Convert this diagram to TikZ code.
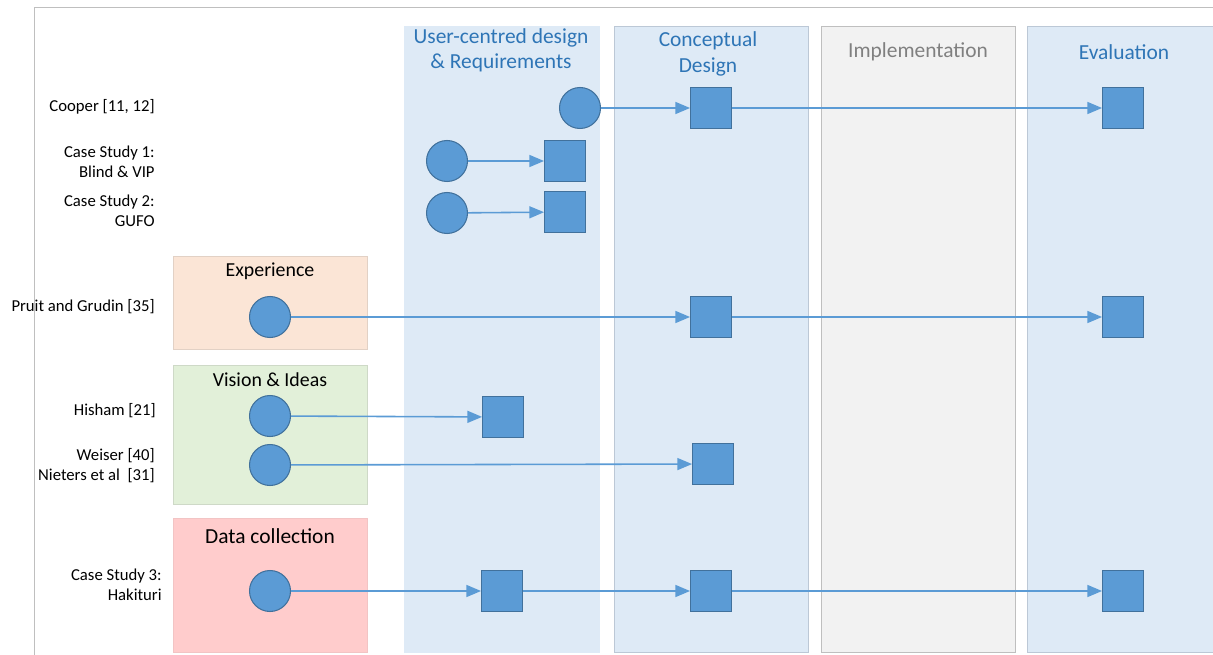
\documentclass[tikz,border=0pt]{standalone}
\usepackage{fontspec}
\setmainfont{Carlito}
\usetikzlibrary{positioning,shapes,arrows}
\definecolor{dotblue}{HTML}{5B9BD5}
\definecolor{dotedge}{HTML}{41719C}
\definecolor{lanefill}{HTML}{DEEAF6}
\definecolor{laneedge}{HTML}{BCC8D6}
\definecolor{headblue}{HTML}{2E75B6}
\definecolor{greyfill}{HTML}{F2F2F2}
\definecolor{greyedge}{HTML}{BFBFBF}
\definecolor{expfill}{HTML}{FBE5D6}
\definecolor{visfill}{HTML}{E2F0D9}
\definecolor{datafill}{HTML}{FFCCCC}
\tikzstyle{phase} = [text=headblue, align=center, font=\fontsize{12.2}{14.4}\selectfont]
\tikzstyle{source} = [align=right, anchor=east, inner sep=0pt, font=\fontsize{9.5}{11.4}\selectfont]
\tikzstyle{group} = [font=\fontsize{11.3}{13}\selectfont]
\tikzstyle{dot} = [circle, minimum size=0.82cm, inner sep=0pt, fill=dotblue, draw=dotedge, line width=0.6pt]
\tikzstyle{squared} = [rectangle, minimum size=0.82cm, inner sep=0pt, fill=dotblue, draw=dotedge, line width=0.6pt]
\tikzstyle{connect} = [line width=0.9pt, draw=dotblue, -triangle 45]

\begin{document}
\begin{tikzpicture}[x=0.02cm, y=-0.02cm]
			\useasboundingbox (0,0) rectangle (1213,655);
			% frame
			\draw [greyedge] (34,655) -- (34,7) -- (1213,7);
			% phase lanes
			\draw [fill=lanefill, draw=lanefill] (404,26) rectangle (599,652);
			\draw [fill=lanefill, draw=laneedge] (614,26) rectangle (808,652);
			\draw [fill=greyfill, draw=greyedge] (821,26) rectangle (1015,652);
			\draw [fill=lanefill, draw=laneedge] (1027,26) rectangle (1220,652);
			\node (ucd) [phase] at (501,50) {User-centred design\\\& Requirements};
			\node (cdes) [phase] at (708,54) {Conceptual\\Design};
			\node (impl) [phase, text=gray] at (918,52) {Implementation};
			\node (eval) [phase] at (1124,52) {Evaluation};
			%-----------------------------------------------
			% source groups
			\draw [fill=expfill, draw=expfill!80!gray] (173,256) rectangle (367,349);
			\draw [fill=visfill, draw=visfill!80!gray] (173,365) rectangle (367,504);
			\draw [fill=datafill, draw=datafill!90!gray] (173,518) rectangle (367,652);
			\node (exp) [group] at (270,271) {Experience};
			\node (vis) [group] at (270,380) {Vision \& Ideas};
			\node (data) [group, font=\fontsize{12.2}{14}\selectfont] at (270,536) {Data collection};
			%-----------------------------------------------
			% sources
			\node (lcooper) [source] at (155,107) {Cooper [11, 12]};
			\node (lcsone) [source] at (155,162) {Case Study 1:\\Blind \& VIP};
			\node (lcstwo) [source] at (155,211) {Case Study 2:\\GUFO};
			\node (lpruit) [source] at (155,307) {Pruit and Grudin [35]};
			\node (lhisham) [source] at (156,411) {Hisham [21]};
			\node (lweiser) [source] at (155,466) {Weiser [40]\\Nieters et al\ \ [31]};
			\node (lcsthree) [source] at (162,585) {Case Study 3:\\Hakituri};
			%-----------------------------------------------
			\node (cooperc) [dot] at (580,108) {};
			\node (coopera) [squared] at (711,108) {};
			\node (cooperb) [squared] at (1123,108) {};
			\node (csonec) [dot] at (447,161) {};
			\node (csonea) [squared] at (565,161) {};
			\node (cstwoc) [dot] at (447,213) {};
			\node (cstwoa) [squared] at (565,212) {};
			\node (pruitc) [dot] at (270,317) {};
			\node (pruita) [squared] at (711,317) {};
			\node (pruitb) [squared] at (1123,317) {};
			\node (hishamc) [dot] at (270,416) {};
			\node (hishama) [squared] at (503,417) {};
			\node (weiserc) [dot] at (270,465) {};
			\node (weisera) [squared] at (713,464) {};
			\node (csthreec) [dot] at (270,591) {};
			\node (csthreea) [squared] at (502,591) {};
			\node (csthreeb) [squared] at (711,591) {};
			\node (csthreed) [squared] at (1123,591) {};
			%-----------------------------------------------
			\draw [connect] (cooperc) -- (coopera);
			\draw [connect] (coopera) -- (cooperb);
			\draw [connect] (csonec) -- (csonea);
			\draw [connect] (cstwoc) -- (cstwoa);
			\draw [connect] (pruitc) -- (pruita);
			\draw [connect] (pruita) -- (pruitb);
			\draw [connect] (hishamc) -- (hishama);
			\draw [connect] (weiserc) -- (weisera);
			\draw [connect] (csthreec) -- (csthreea);
			\draw [connect] (csthreea) -- (csthreeb);
			\draw [connect] (csthreeb) -- (csthreed);
\end{tikzpicture}
\end{document}
